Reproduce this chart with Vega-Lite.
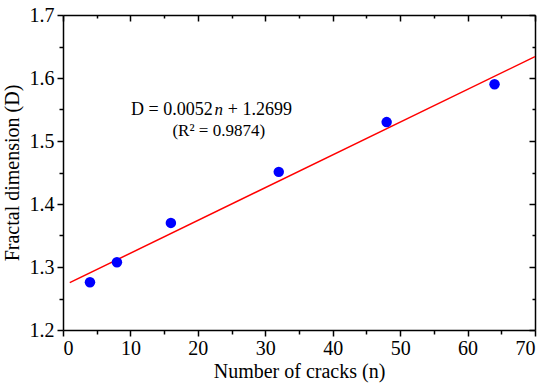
{
  "$schema": "https://vega.github.io/schema/vega-lite/v6.json",
  "width": 472,
  "height": 315,
  "autosize": {"type": "none"},
  "padding": {"left": 63, "top": 15, "right": 15, "bottom": 57},
  "background": "white",
  "config": {
    "view": {"stroke": null},
    "font": "Liberation Serif",
    "axis": {"grid": false, "domainColor": "black", "domainWidth": 1.5, "tickColor": "black", "tickWidth": 1.5, "labelColor": "black", "titleColor": "black", "labelFont": "Liberation Serif", "titleFont": "Liberation Serif", "labelFontSize": 20, "titleFontSize": 20, "titleFontWeight": "normal"}
  },
  "datasets": {
    "pts": [
      {"n": 4, "D": 1.2757},
      {"n": 8, "D": 1.3075},
      {"n": 16, "D": 1.370},
      {"n": 32, "D": 1.451},
      {"n": 48, "D": 1.530},
      {"n": 64, "D": 1.590}
    ],
    "fit": [
      {"n": 1, "D": 1.2751},
      {"n": 70, "D": 1.6339}
    ],
    "ann": [
      {"n": 23.1, "D": 1.5485, "a": "D = 0.0052", "b": "n", "c": "+ 1.2699", "r": "(R² = 0.9874)", "D2": 1.5165}
    ]
  },
  "resolve": {"axis": {"x": "independent", "y": "independent"}},
  "layer": [
    {
      "data": {"name": "fit"},
      "mark": {"type": "line", "color": "#FF0000", "strokeWidth": 1.5},
      "encoding": {
        "x": {"field": "n", "type": "quantitative", "scale": {"domain": [0, 70], "nice": false},
          "axis": {"orient": "bottom", "values": [0, 10, 20, 30, 40, 50, 60, 70], "tickSize": 6, "labelPadding": 2, "title": "Number of cracks (n)", "titlePadding": 3}},
        "y": {"field": "D", "type": "quantitative", "scale": {"domain": [1.2, 1.7], "nice": false, "zero": false},
          "axis": {"orient": "left", "values": [1.2, 1.3, 1.4, 1.5, 1.6, 1.7], "format": ".1f", "tickSize": 6, "labelPadding": 3, "title": "Fractal dimension (D)", "titlePadding": 7}}
      }
    },
    {
      "data": {"name": "pts"},
      "mark": {"type": "circle", "color": "#0000FF", "opacity": 1, "size": 110},
      "encoding": {
        "x": {"field": "n", "type": "quantitative",
          "axis": {"orient": "bottom", "values": [5, 15, 25, 35, 45, 55, 65], "tickSize": 4, "labels": false, "domain": false, "title": null}},
        "y": {"field": "D", "type": "quantitative",
          "axis": {"orient": "left", "values": [1.25, 1.35, 1.45, 1.55, 1.65], "tickSize": 4, "labels": false, "domain": false, "title": null}}
      }
    },
    {
      "data": {"name": "ann"},
      "mark": {"type": "text", "align": "center", "baseline": "middle", "fontStyle": "italic", "fontSize": 17, "color": "black"},
      "encoding": {
        "x": {"field": "n", "type": "quantitative",
          "axis": {"orient": "top", "values": [0, 10, 20, 30, 40, 50, 60, 70], "tickSize": -6, "labels": false, "title": null}},
        "y": {"field": "D", "type": "quantitative",
          "axis": {"orient": "right", "values": [1.2, 1.3, 1.4, 1.5, 1.6, 1.7], "tickSize": -6, "labels": false, "title": null}},
        "text": {"field": "b"}
      }
    },
    {
      "data": {"name": "ann"},
      "mark": {"type": "text", "align": "right", "baseline": "middle", "dx": -6, "fontSize": 18, "color": "black"},
      "encoding": {
        "x": {"field": "n", "type": "quantitative",
          "axis": {"orient": "top", "values": [5, 15, 25, 35, 45, 55, 65], "tickSize": -3, "labels": false, "domain": false, "title": null}},
        "y": {"field": "D", "type": "quantitative",
          "axis": {"orient": "right", "values": [1.25, 1.35, 1.45, 1.55, 1.65], "tickSize": -3, "labels": false, "domain": false, "title": null}},
        "text": {"field": "a"}
      }
    },
    {
      "data": {"name": "ann"},
      "mark": {"type": "text", "align": "left", "baseline": "middle", "dx": 9, "fontSize": 18, "color": "black"},
      "encoding": {
        "x": {"field": "n", "type": "quantitative", "axis": null},
        "y": {"field": "D", "type": "quantitative", "axis": null},
        "text": {"field": "c"}
      }
    },
    {
      "data": {"name": "ann"},
      "mark": {"type": "text", "align": "center", "baseline": "middle", "fontSize": 17, "color": "black"},
      "encoding": {
        "x": {"field": "n", "type": "quantitative", "axis": null},
        "y": {"field": "D2", "type": "quantitative", "axis": null},
        "text": {"field": "r"}
      }
    }
  ]
}
